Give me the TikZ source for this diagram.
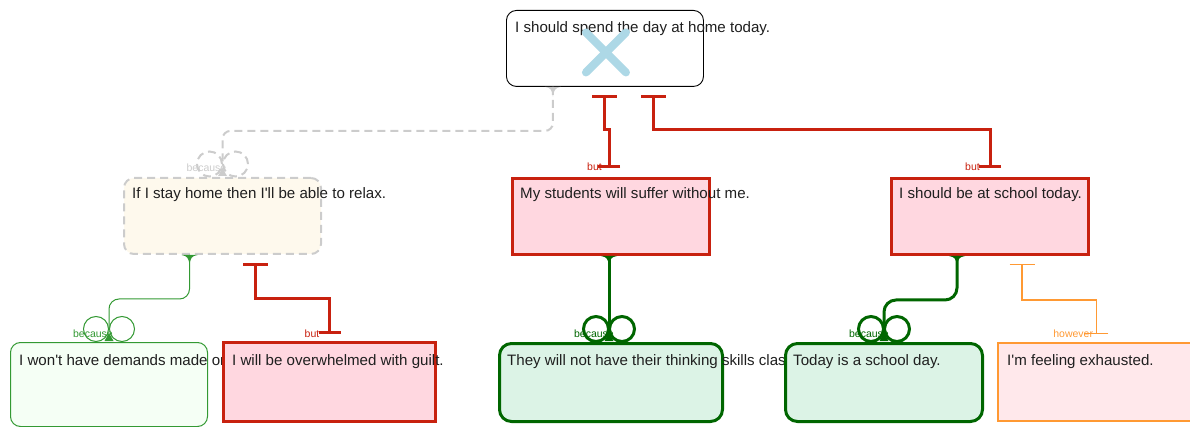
\documentclass[tikz,border=0pt]{standalone}
\usepackage{fontspec}
\setmainfont{Liberation Sans}[Ligatures=TeXOff]
\usetikzlibrary{calc,positioning,arrows.meta}

\definecolor{butred}{RGB}{200,33,15}
\definecolor{butpink}{RGB}{255,215,224}
\definecolor{darkgrn}{RGB}{0,102,0}
\definecolor{thingrn}{RGB}{51,153,51}
\definecolor{mintfill}{RGB}{220,243,230}
\definecolor{palegrn}{RGB}{245,255,245}
\definecolor{creamfill}{RGB}{254,249,237}
\definecolor{dashgray}{RGB}{204,204,204}
\definecolor{howorange}{RGB}{255,153,51}
\definecolor{rosefill}{RGB}{255,232,235}
\definecolor{crossblue}{RGB}{173,216,230}

\tikzset{
  argbox/.style={draw, minimum width=197pt, minimum height=76pt, inner sep=0pt, anchor=north west},
  claimbox/.style={argbox, black, fill=white, line width=0.9pt, rounded corners=10pt},
  relaxbox/.style={argbox, dashgray, fill=creamfill, line width=2pt, dash pattern=on 8pt off 5pt, rounded corners=10pt},
  objbox/.style={argbox, butred, fill=butpink, line width=3pt},
  reasonbox/.style={argbox, darkgrn, fill=mintfill, line width=3pt, rounded corners=12pt, minimum height=78pt},
  weakbox/.style={argbox, thingrn, fill=palegrn, line width=1pt, rounded corners=10pt, minimum height=84pt},
  howbox/.style={argbox, howorange, fill=rosefill, line width=1.5pt, minimum height=78pt},
  txt/.style={anchor=base west, inner sep=0pt, text=black!88, font=\fontsize{15.1}{18}\selectfont},
  tag/.style={inner sep=0pt, font=\fontsize{10.5}{12}\selectfont},
  graylink/.style={dashgray, line width=2pt, dash pattern=on 8pt off 5pt},
  butlink/.style={butred, line width=3pt, {Bar[width=25pt]}-{Bar[width=22pt]}},
  howlink/.style={howorange, line width=1.2pt, {Bar[width=25pt]}-{Bar[width=24pt]}}
}

\begin{document}
\begin{tikzpicture}[x=1pt,y=-1pt,
  pics/becausejoin/.style={code={
    \draw (-13,0) circle (12.5pt) (13,0) circle (12.5pt);
    \fill[solid] (-4.5,12) -- (0,4) -- (4.5,12) -- cycle;}},
  pics/parenttip/.style={code={
    \fill[solid] (-8,0) .. controls (-2,1) and (-1,3) .. (0,10) .. controls (1,3) and (2,1) .. (8,0) -- cycle;}}]
  \useasboundingbox (0,0) rectangle (1190,427);

  % top claim
  \node[claimbox] (home) at (506,10) {};
  \node[txt] (home-t) at ($(home.north west)+(9,23)$) {I should spend the day at home today.};
  \draw[crossblue, line width=8pt, line cap=round] ($(home.center)+(-19,-16)$) coordinate (x1) -- ++(40,40);
  \draw[crossblue, line width=8pt, line cap=round] ($(home.center)+(-19,24)$) coordinate (x2) -- ++(40,-40);

  % second row
  \node[relaxbox] (relax) at (123,177) {};
  \node[txt] (relax-t) at ($(relax.north west)+(9,22)$) {If I stay home then I'll be able to relax.};
  \node[objbox] (suffer) at (511,177) {};
  \node[txt] (suffer-t) at ($(suffer.north west)+(9,22)$) {My students will suffer without me.};
  \node[objbox] (school) at (890,177) {};
  \node[txt] (school-t) at ($(school.north west)+(9,22)$) {I should be at school today.};

  % bottom row
  \node[weakbox] (demands) at (10,342) {};
  \begin{scope}
    \clip (0,330) rectangle (221,427);
    \node[txt] (demands-t) at ($(demands.north west)+(9,23)$) {I won't have demands made on me.};
  \end{scope}
  \node[objbox, minimum width=212pt, minimum height=79pt] (guilt) at (222,341) {};
  \node[txt] (guilt-t) at ($(guilt.north west)+(10,24)$) {I will be overwhelmed with guilt.};
  \node[reasonbox, minimum width=223pt] (skills) at (498,342) {};
  \node[txt] (skills-t) at ($(skills.north west)+(9,23)$) {They will not have their thinking skills class.};
  \node[reasonbox] (schoolday) at (784,342) {};
  \node[txt] (schoolday-t) at ($(schoolday.north west)+(9,23)$) {Today is a school day.};
  \node[howbox] (tired) at (997,342) {};
  \node[txt] (tired-t) at ($(tired.north west)+(10,23)$) {I'm feeling exhausted.};

  % because links
  \coordinate (home-g) at ($(home.south)+(-52,0)$);
  \coordinate (relax-g) at ($(relax.north)+(0,-13)$);
  \draw[graylink, rounded corners=8pt] (home-g) -- ++(0,44) -| (relax-g);
  \pic[graylink] at (home-g) {parenttip};
  \pic[graylink] at (relax-g) {becausejoin};
  \node[tag, dashgray, anchor=base east] (relax-w) at ($(relax-g)+(4,8)$) {because};

  \coordinate (relax-d) at ($(relax.south)+(-33,0)$);
  \coordinate (demands-g) at ($(demands.north)+(0,-13)$);
  \draw[thingrn, line width=1pt, rounded corners=10pt] (relax-d) -- ++(0,44) -| (demands-g);
  \pic[thingrn, line width=1pt] at (relax-d) {parenttip};
  \pic[thingrn, line width=1pt] at (demands-g) {becausejoin};
  \node[tag, thingrn, anchor=base east] (demands-w) at ($(demands-g)+(4,8)$) {because};

  \coordinate (suffer-d) at ($(suffer.south)+(-2,0)$);
  \coordinate (skills-g) at ($(skills.north)+(-2,-13)$);
  \draw[darkgrn, line width=3pt] (suffer-d) -- (skills-g);
  \pic[darkgrn, line width=3pt] at (suffer-d) {parenttip};
  \pic[darkgrn, line width=3pt] at (skills-g) {becausejoin};
  \node[tag, darkgrn, anchor=base east] (skills-w) at ($(skills-g)+(5,8)$) {because};

  \coordinate (school-d) at ($(school.south)+(-33,0)$);
  \coordinate (schoolday-g) at ($(schoolday.north)+(0,-13)$);
  \draw[darkgrn, line width=3pt, rounded corners=12pt] (school-d) -- ++(0,44) -| (schoolday-g);
  \pic[darkgrn, line width=3pt] at (school-d) {parenttip};
  \pic[darkgrn, line width=3pt] at (schoolday-g) {becausejoin};
  \node[tag, darkgrn, anchor=base east] (schoolday-w) at ($(schoolday-g)+(5,8)$) {because};

  % but links
  \draw[butlink] ($(home.south)+(0,8)$) -- ++(0,35) -| ($(suffer.north)+(-2,-9)$) coordinate (suffer-b);
  \node[tag, butred, anchor=base east] (suffer-w) at ($(suffer-b)+(-7,3)$) {but};
  \draw[butlink] ($(home.south)+(49,8)$) -- ++(0,35) -| ($(school.north)+(0,-9)$) coordinate (school-b);
  \node[tag, butred, anchor=base east] (school-w) at ($(school-b)+(-10,3)$) {but};
  \draw[butlink] ($(relax.south)+(33,8)$) -- ++(0,36) -| ($(guilt.north)+(0,-7)$) coordinate (guilt-b);
  \node[tag, butred, anchor=base east] (guilt-w) at ($(guilt-b)+(-10,3)$) {but};
  \draw[howlink] ($(school.south)+(32,8)$) -- ++(0,36) -| ($(tired.north)+(0,-8)$) coordinate (tired-b);
  \node[tag, howorange, anchor=base east] (tired-w) at ($(tired-b)+(-3,3)$) {however};
\end{tikzpicture}
\end{document}
